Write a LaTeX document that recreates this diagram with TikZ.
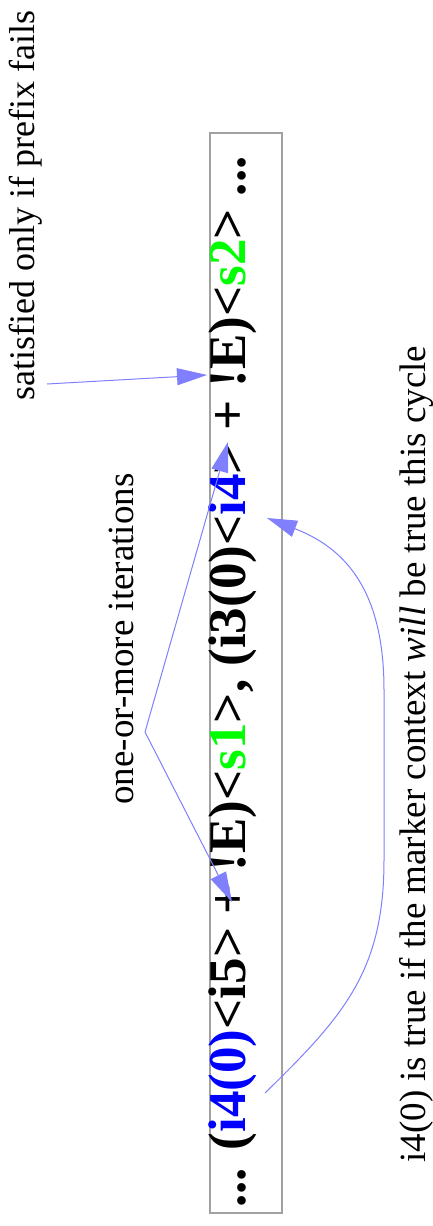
\documentclass[tikz,border=0pt]{standalone}
\usepackage{fontspec}
\setmainfont{Liberation Serif}
\usetikzlibrary{arrows.meta}
\definecolor{edge}{HTML}{8080FF}
\definecolor{frame}{gray}{0.63}
\definecolor{inblue}{rgb}{0,0,1}
\definecolor{sgreen}{rgb}{0,1,0}
\newcommand\notesize{\fontsize{37}{40}\selectfont}
\newcommand\seqsize{\fontsize{53}{56}\selectfont\bfseries}

\begin{document}
\begin{tikzpicture}[x=1pt,y=-1pt,line width=1pt,
  note/.style={rotate=90,anchor=base west,inner sep=0pt,font=\notesize},
  pointer/.style={edge,-{Triangle[length=30pt,width=17pt]}}]
  \useasboundingbox (0,0) rectangle (433,1226);
  \fill[white] (0,0) rectangle (433,1226);
  % the marker sequence in its frame
  \draw[frame,line width=1.5pt] (210,133) rectangle (282,1213);
  \node[note,font=\seqsize] (seq) at (245,1208)
    {... (\textcolor{inblue}{i4(0)}<i5> + !E)<\textcolor{sgreen}{s1}>, (i3(0)<\textcolor{inblue}{i4}> + !E)<\textcolor{sgreen}{s2}> ...};
  \node[note,font=\fontsize{36}{40}\selectfont] (fails) at (34,401) {satisfied only if prefix fails};
  \node[note] (iter) at (133,805) {one-or-more iterations};
  \node[note] (cycle) at (425,1163)
    {i4(0) is true if the marker context \textit{will} be true this cycle};
  % where the pointers start and land
  \coordinate (failsfoot) at (47,384);
  \coordinate (negtwo) at (207,375);
  \coordinate (fork) at (145,732);
  \coordinate (plustwo) at (228,442);
  \coordinate (plusone) at (232,902);
  \coordinate (ifour) at (265,1093);
  \coordinate (ifourlater) at (267,518);
  \draw[pointer] (failsfoot) -- (negtwo);
  \draw[pointer] (fork) -- (plustwo);
  \draw[pointer] (fork) -- (plusone);
  \draw[pointer] (ifour) .. controls (345,1015) and (384,970) .. (384,860)
    -- (384,690) .. controls (384,590) and (345,548) .. (ifourlater);
\end{tikzpicture}
\end{document}
